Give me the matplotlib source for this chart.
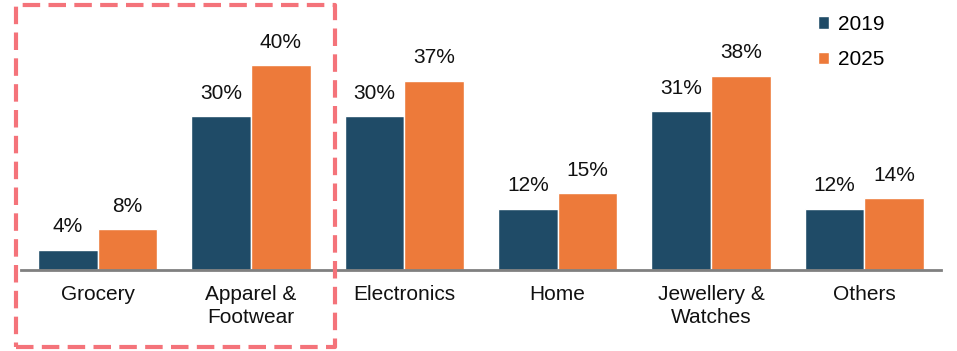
import matplotlib.pyplot as plt
from matplotlib.patches import Rectangle
import numpy as np

plt.rcParams['font.family'] = ['Liberation Sans', 'DejaVu Sans']

categories = ["Grocery", "Apparel &\nFootwear", "Electronics", "Home", "Jewellery &\nWatches", "Others"]
share_2019 = [4, 30, 30, 12, 31, 12]
share_2025 = [8, 40, 37, 15, 38, 14]

navy = "#1F4B67"
orange = "#ED7A3A"

fig = plt.figure(figsize=(9.57, 3.51), dpi=100)
ax = fig.add_axes([21 / 957, 81 / 351, 920 / 957, 261 / 351])

x = np.arange(len(categories))
w = 0.39
b1 = ax.bar(x - w / 2, share_2019, w, color=navy, edgecolor="white", linewidth=1, label="2019")
b2 = ax.bar(x + w / 2, share_2025, w, color=orange, edgecolor="white", linewidth=1, label="2025")

for bars in (b1, b2):
    for rect in bars:
        h = rect.get_height()
        ax.annotate(f"{h:.0f}%", (rect.get_x() + rect.get_width() / 2, h),
                    xytext=(0, 9.5), textcoords="offset points",
                    ha="center", va="bottom", fontsize=15, color="#111111")

ax.set_xlim(-0.5, len(categories) - 0.5)
ax.set_ylim(0, 51)
ax.set_xticks(x)
ax.set_xticklabels(categories, fontsize=15, color="#111111", linespacing=1.25)
ax.tick_params(axis="x", length=0, pad=11)
ax.set_yticks([])
for s in ("top", "right", "left"):
    ax.spines[s].set_visible(False)
ax.spines["bottom"].set_color("#808080")
ax.spines["bottom"].set_linewidth(2)

leg = fig.legend(handles=[b1, b2], labels=["2019", "2025"], loc="upper left",
                 bbox_to_anchor=(799 / 957, 1 + 4 / 351), frameon=False, fontsize=15,
                 handlelength=0.55, handleheight=0.55, handletextpad=0.4, labelspacing=0.8)

rect = Rectangle((16 / 957, 1 - 347 / 351), (335 - 16) / 957, (347 - 5) / 351,
                 transform=fig.transFigure, fill=False, edgecolor="#F4737A",
                 linewidth=3, linestyle=(0, (4.2, 2)), joinstyle="round")
fig.add_artist(rect)

fig.savefig("out.png", dpi=100)
